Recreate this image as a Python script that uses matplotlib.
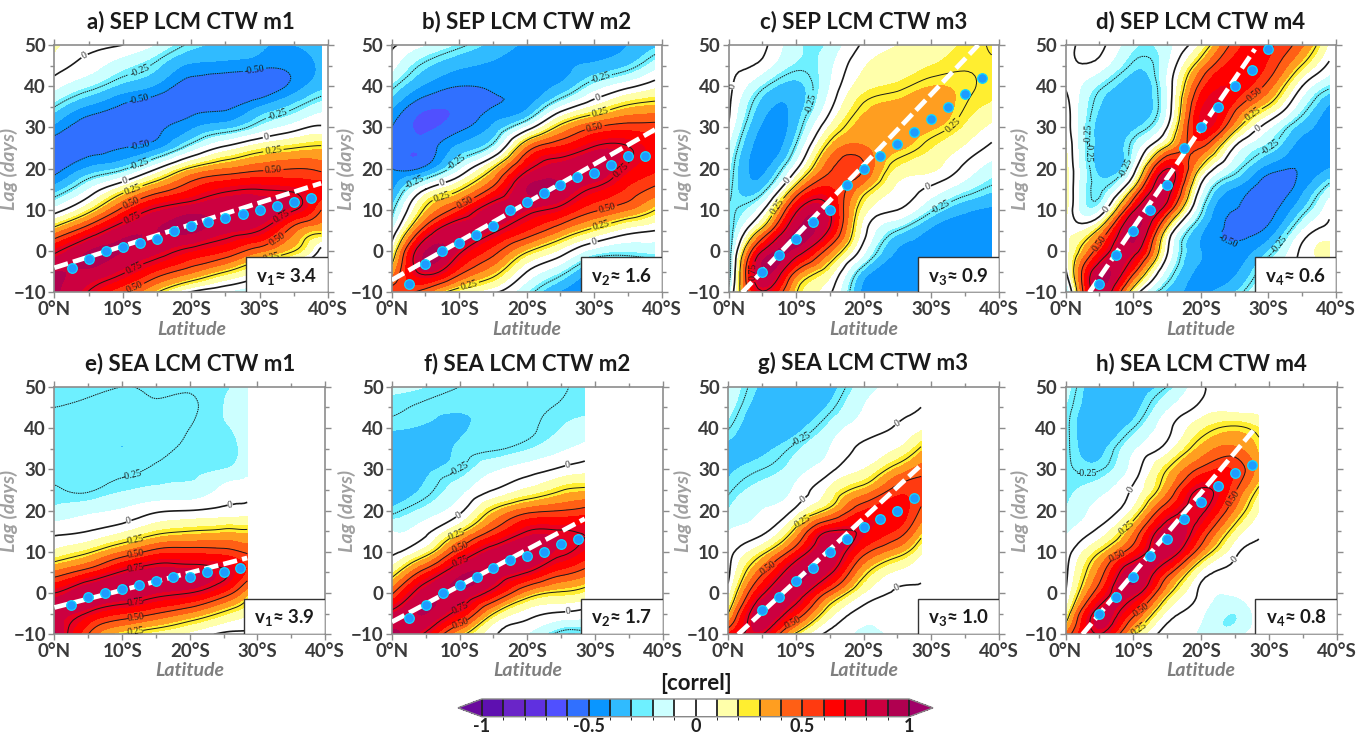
import matplotlib
matplotlib.use('Agg')
import matplotlib.pyplot as plt
import matplotlib.tri as mtri
from matplotlib.colors import ListedColormap, BoundaryNorm
from matplotlib.patches import Rectangle
from matplotlib.ticker import MultipleLocator
import numpy as np

plt.rcParams['font.family'] = ['Lato', 'DejaVu Sans']
plt.rcParams['mathtext.fontset'] = 'custom'
plt.rcParams['mathtext.bf'] = 'Lato:bold'
plt.rcParams['mathtext.rm'] = 'Lato:bold'

lag = [-10, -5, 0, 5, 10, 15, 20, 25, 30, 35, 40, 45, 50]
lat_top = [0, 5, 10, 15, 20, 25, 30, 35, 39]
lat_bot = [0, 5, 10, 15, 20, 25, 28.5]

# one list per latitude, values going up the lag axis
a_corr = [
    [.92, .90, .72, .33, -.06, -.35, -.55, -.58, -.43, -.25, -.07, .05, .12],
    [.74, .88, .90, .62, .20, -.10, -.38, -.55, -.56, -.42, -.20, -.05, .03],
    [.50, .77, .90, .85, .55, .17, -.27, -.50, -.56, -.52, -.33, -.17, 0],
    [.25, .58, .82, .90, .78, .42, 0, -.42, -.52, -.56, -.42, -.28, -.12],
    [-.02, .42, .70, .92, .86, .60, .28, -.17, -.42, -.55, -.55, -.42, -.27],
    [-.12, .25, .60, .82, .87, .72, .40, .04, -.33, -.52, -.58, -.44, -.33],
    [-.20, .08, .42, .75, .84, .75, .47, .18, -.18, -.40, -.58, -.47, -.38],
    [-.22, -.10, .25, .43, .76, .72, .50, .25, -.05, -.27, -.46, -.46, -.40],
    [-.25, -.13, -.05, .30, .50, .65, .47, .28, .02, -.15, -.33, -.38, -.38],
]
b_corr = [
    [.58, .33, .10, -.12, -.29, -.43, -.50, -.52, -.50, -.38, -.22, -.06, .02],
    [.42, .80, .90, .60, .28, 0, -.46, -.57, -.62, -.58, -.42, -.28, -.10],
    [.15, .55, .78, .88, .58, .23, -.13, -.37, -.53, -.58, -.50, -.38, -.22],
    [.02, .32, .55, .78, .85, .55, .25, -.18, -.38, -.50, -.48, -.42, -.33],
    [-.20, 0, .27, .60, .80, .90, .72, .42, -.08, -.42, -.44, -.44, -.42],
    [-.42, -.20, .07, .40, .70, .88, .85, .63, .30, -.10, -.38, -.42, -.45],
    [-.48, -.42, -.15, .20, .52, .73, .88, .77, .50, .12, -.17, -.38, -.44],
    [-.48, -.42, -.20, .05, .40, .58, .72, .76, .56, .28, -.03, -.30, -.40],
    [-.45, -.42, -.18, 0, .25, .47, .62, .65, .55, .32, .07, -.15, -.32],
]
c_corr = [
    [-.20, -.35, -.35, -.33, -.27, -.22, -.18, -.12, -.02, .02, .03, .02, 0],
    [.73, .92, .76, .32, -.02, -.30, -.43, -.46, -.42, -.35, -.22, -.04, .03],
    [.26, .48, .85, .90, .72, .35, -.02, -.22, -.32, -.36, -.33, -.22, -.18],
    [.02, .15, .42, .72, .75, .62, .48, .32, .12, -.03, -.10, -.13, -.18],
    [-.44, -.33, -.07, .05, .15, .32, .50, .42, .34, .27, .16, .09, .02],
    [-.45, -.45, -.41, -.25, 0, .08, .18, .32, .38, .34, .22, .15, .10],
    [-.45, -.45, -.45, -.42, -.22, -.03, .12, .20, .32, .38, .30, .20, .15],
    [-.45, -.45, -.45, -.45, -.38, -.18, -.03, .08, .18, .25, .27, .24, .21],
    [-.45, -.45, -.45, -.45, -.42, -.28, -.15, -.03, .07, .18, .22, .24, .26],
]
d_corr = [
    [-.30, -.02, .05, .10, .14, .16, .15, .12, .07, .05, -.01, -.03, -.05],
    [.87, .88, .60, .30, -.12, -.27, -.33, -.34, -.34, -.30, -.22, -.05, .03],
    [.13, .55, .82, .92, .72, .28, -.08, -.20, -.32, -.36, -.36, -.27, -.18],
    [-.33, -.15, .02, .18, .62, .82, .75, .30, 0, -.10, -.10, -.12, -.14],
    [-.42, -.43, -.40, -.38, -.22, -.05, .22, .50, .70, .68, .55, .35, .12],
    [-.30, -.42, -.47, -.52, -.50, -.42, -.20, -.02, .32, .55, .68, .65, .55],
    [-.05, -.15, -.30, -.47, -.53, -.56, -.45, -.25, -.08, .22, .45, .58, .62],
    [.03, .02, .03, -.10, -.30, -.43, -.49, -.46, -.35, -.18, 0, .24, .42],
    [.02, .05, .13, .04, -.03, -.18, -.40, -.45, -.46, -.42, -.22, -.03, .08],
]
e_corr = [
    [.92, .85, .75, .42, .12, -.03, -.18, -.24, -.27, -.28, -.27, -.25, -.21],
    [.50, .73, .88, .58, .23, 0, -.13, -.26, -.28, -.29, -.29, -.27, -.22],
    [.25, .60, .88, .77, .40, .08, -.09, -.21, -.27, -.30, -.29, -.28, -.25],
    [.15, .50, .80, .84, .55, .20, -.02, -.18, -.24, -.27, -.28, -.26, -.24],
    [.07, .38, .75, .83, .57, .25, 0, -.17, -.22, -.24, -.25, -.26, -.24],
    [-.02, .22, .58, .77, .55, .28, .03, -.07, -.20, -.23, -.21, -.20, -.21],
    [-.02, .12, .33, .58, .48, .27, .05, -.05, -.13, -.17, -.17, -.18, -.17],
]
f_corr = [
    [.92, .80, .48, .18, -.03, -.10, -.28, -.35, -.36, -.37, -.29, -.23, -.18],
    [.72, .90, .85, .58, .17, -.03, -.17, -.28, -.32, -.35, -.31, -.27, -.20],
    [.30, .68, .88, .87, .58, .22, -.03, -.14, -.25, -.29, -.31, -.29, -.25],
    [.02, .25, .68, .87, .83, .53, .27, 0, -.12, -.26, -.28, -.29, -.28],
    [-.10, .05, .35, .75, .87, .75, .45, .12, -.05, -.21, -.26, -.27, -.28],
    [-.30, -.02, .23, .55, .78, .76, .50, .24, .02, -.12, -.20, -.24, -.26],
    [-.30, -.05, .18, .45, .68, .74, .54, .28, .06, -.07, -.16, -.22, -.23],
]
g_corr = [
    [.62, .25, .05, -.03, -.05, -.10, -.20, -.27, -.32, -.33, -.24, -.15, -.10],
    [.76, .88, .72, .47, .20, -.03, -.10, -.16, -.25, -.33, -.38, -.36, -.32],
    [.22, .62, .85, .87, .60, .30, .03, -.08, -.15, -.22, -.34, -.38, -.38],
    [-.03, .15, .45, .78, .87, .75, .30, .12, -.03, -.10, -.17, -.28, -.35],
    [-.12, -.05, .10, .30, .55, .72, .60, .32, .10, .02, -.05, -.10, -.15],
    [-.08, -.03, -.01, .08, .33, .58, .66, .55, .32, .10, .01, -.03, -.08],
    [-.05, -.03, -.01, .02, .12, .32, .48, .54, .45, .27, .08, 0, -.03],
]
h_corr = [
    [.42, .12, 0, -.03, -.06, -.12, -.20, -.22, -.22, -.22, -.22, -.20, -.15],
    [.75, .82, .60, .43, .24, .03, -.07, -.14, -.26, -.33, -.38, -.38, -.37],
    [.25, .55, .82, .88, .60, .38, .13, .02, -.06, -.12, -.25, -.34, -.37],
    [-.05, .07, .30, .57, .85, .85, .62, .37, .25, .05, -.03, -.12, -.25],
    [-.12, -.08, -.03, .08, .40, .63, .78, .77, .53, .33, .18, .03, -.02],
    [-.15, -.20, -.08, -.02, .03, .18, .38, .52, .58, .42, .27, .05, .03],
    [-.03, -.03, -.03, -.03, -.02, .02, .10, .22, .34, .28, .20, .05, .03],
]

a_dot_lat = [2.5, 5, 7.5, 10, 12.5, 15, 17.5, 20, 22.5, 25, 27.5, 30, 32.5, 35, 37.5]
a_dot_lag = [-4, -2, 0, 1, 2, 3, 5, 6, 7, 8, 9, 10, 11, 12, 13]
b_dot_lag = [-8, -3, 0, 2, 4, 6, 10, 12, 14, 16, 18, 19, 21, 23, 23]
c_dot_lat = [5, 7.5, 10, 12.5, 15, 17.5, 20, 22.5, 25, 27.5, 30, 32.5, 35, 37.5]
c_dot_lag = [-5, -1, 3, 7, 10, 16, 20, 23, 26, 29, 32, 35, 38, 42]
d_dot_lat = [5, 7.5, 10, 12.5, 15, 17.5, 20, 22.5, 25, 27.5, 30]
d_dot_lag = [-8, -1, 5, 10, 16, 25, 30, 35, 40, 44, 49]
e_dot_lat = [2.5, 5, 7.5, 10, 12.5, 15, 17.5, 20, 22.5, 25, 27.5]
e_dot_lag = [-3, -1, 0, 1, 2, 3, 4, 4, 5, 5, 6]
f_dot_lag = [-6, -3, 0, 2, 4, 6, 8, 9, 10, 12, 13]
g_dot_lat = [5, 7.5, 10, 12.5, 15, 17.5, 20, 22.5, 25, 27.5]
g_dot_lag = [-4, -1, 3, 6, 10, 13, 16, 18, 20, 23]
h_dot_lag = [-5, -1, 4, 9, 13, 18, 22, 26, 29, 31]

# fitted speed lines, (lat start, lat end) and (lag start, lag end)
a_fit = ([0, 39], [-4, 16.5])
b_fit = ([0, 39], [-7, 29.5])
c_fit = ([2, 37], [-10, 50])
d_fit = ([3.5, 28], [-10, 49])
e_fit = ([0, 28.5], [-3.5, 8.5])
f_fit = ([0, 28.5], [-7, 18])
g_fit = ([1.5, 28.5], [-10, 31])
h_fit = ([2.5, 28], [-10, 40])

titles = ['a) SEP LCM CTW m1', 'b) SEP LCM CTW m2', 'c) SEP LCM CTW m3', 'd) SEP LCM CTW m4',
          'e) SEA LCM CTW m1', 'f) SEA LCM CTW m2', 'g) SEA LCM CTW m3', 'h) SEA LCM CTW m4']
speeds = ['1', '2', '3', '4', '1', '2', '3', '4']
speed_vals = ['3.4', '1.6', '0.9', '0.6', '3.9', '1.7', '1.0', '0.8']

band_colors = ['#5E10B0', '#6A25C8', '#6030E0', '#5050FF', '#3070FF', '#0A96FF', '#30BBFF', '#6EF0FF',
               '#CCFFFF', '#FFFFFF', '#FFFFFF', '#FFFFAA', '#FFEE30', '#FF9E20', '#FF5F15', '#FF3A10',
               '#FF0000', '#E80020', '#CC0040', '#B00050']
levels = np.arange(-10, 11) / 10
line_levels = [-.5, -.25, 0, .25, .5, .75]
line_fmt = {-.5: '-0.50', -.25: '-0.25', 0: '0', .25: '0.25', .5: '0.50', .75: '0.75'}

cmap = ListedColormap(band_colors)
cmap.set_under('#6A0A9E')
cmap.set_over('#A00068')
norm = BoundaryNorm(levels, cmap.N)

# contour label spots (lat, lag)
a_spots = [(4.5, 47), (12.3, 44.4), (12.3, 37.5), (12.3, 27.8), (29.5, 41), (12.3, 21.8), (32.5, 33.5),
           (10.3, 17.3), (31, 27.6), (11.5, 14.9), (32, 24.5), (31.5, -.5), (11.5, 10.8), (32, 20),
           (32, 4.4), (11.5, -7.7), (11.5, 7.2), (11.5, -3.7), (33, 9)]
b_spots = [(7.5, 16.5), (30.5, 37.5), (30, 2), (7.5, 13), (31, 33), (31, 6.5), (9, 22.5), (31, 41.5),
           (11, 11.5), (30, 30.5), (32, 10), (11.5, -8.5), (3, 18), (34, 19.5)]
c_spots = [(1, 40), (8.5, 17.5), (29.5, 15.5), (7, 11), (33, 31), (13, 35.5), (31.5, 10.5), (3.5, -5)]
d_spots = [(2.2, 24), (6.2, 10), (28.5, 29.5), (4, 28.5), (8, 21), (30, 26), (31, 2.5), (5, 2), (28, 32.5),
           (28, 38), (24, 3)]
e_spots = [(11, 17.3), (26, 21), (12, 13), (12, -9), (12, 9.5), (12, -5.7), (12, 5.7), (12, -2), (11.5, 28)]
f_spots = [(9.7, 19.3), (26, -4.5), (26, 30.5), (9.5, 14.5), (10, 11.5), (10, -6.5), (10, 8), (10, -3.5), (10, 30)]
g_spots = [(11, 23), (25, 41), (25, .8), (11, 17.5), (6, 6), (9.5, -7), (11, 37)]
h_spots = [(9.6, 25), (25, 8), (9, 16), (7.5, 10), (11, -3.5), (25, 22.5), (3, 25), (11, -9)]

W, H = 1363, 733
# axes frames in pixels: left, right, top, bottom
frames = [(54.5, 328, 45, 292.5), (391.7, 661.7, 45, 292.5), (728.7, 998.5, 45, 292.5), (1065.7, 1336, 45, 292.5),
          (54.5, 325, 386.7, 634.3), (392, 662.6, 386.7, 634.3), (728, 999, 386.7, 634.3), (1065.5, 1336.8, 386.7, 634.3)]
fields = [a_corr, b_corr, c_corr, d_corr, e_corr, f_corr, g_corr, h_corr]
dots = [(a_dot_lat, a_dot_lag), (a_dot_lat, b_dot_lag), (c_dot_lat, c_dot_lag), (d_dot_lat, d_dot_lag),
        (e_dot_lat, e_dot_lag), (e_dot_lat, f_dot_lag), (g_dot_lat, g_dot_lag), (g_dot_lat, h_dot_lag)]
fits = [a_fit, b_fit, c_fit, d_fit, e_fit, f_fit, g_fit, h_fit]
spots = [a_spots, b_spots, c_spots, d_spots, e_spots, f_spots, g_spots, h_spots]

GREY = '#8c8c8c'
fig = plt.figure(figsize=(W / 100, H / 100), dpi=100)


def draw_panel(i):
    left, right, top, bottom = frames[i]
    ax = fig.add_axes([left / W, 1 - bottom / H, (right - left) / W, (bottom - top) / H])
    lats = lat_top if i < 4 else lat_bot
    xx, yy = np.meshgrid(lats, lag, indexing='ij')
    zz = np.array(fields[i])
    grid = mtri.Triangulation(xx.ravel(), yy.ravel())
    fine, fine_z = mtri.UniformTriRefiner(grid).refine_field(zz.ravel(), subdiv=3)
    ax.tricontourf(fine, fine_z, levels=levels, cmap=cmap, norm=norm, extend='both')
    lines = ax.tricontour(fine, fine_z, levels=line_levels, colors='#1a1a1a',
                          linewidths=[.7, .7, 1.2, .7, .7, .7],
                          linestyles=[(0, (1.5, .8)), (0, (1.5, .8)), '-', '-', '-', '-'])
    labels = ax.clabel(lines, fmt=line_fmt, fontsize=7, inline=True, inline_spacing=1, manual=spots[i])
    for lab in labels:
        lab.set_family('Liberation Serif')

    ax.plot(fits[i][0], fits[i][1], color='white', lw=3.4, ls=(0, (3.0, 1.1)), zorder=5)
    ax.scatter(dots[i][0], dots[i][1], s=48, facecolor='#1E9BFF', edgecolor='#10D8FF', linewidth=.9, zorder=6)

    ax.set_xlim(0, 40)
    ax.set_ylim(-10, 50)
    ax.xaxis.set_minor_locator(MultipleLocator(5))
    ax.yaxis.set_major_locator(MultipleLocator(10))
    ax.yaxis.set_minor_locator(MultipleLocator(5))
    ax.set_xticks([0, 10, 20, 30, 40])
    ax.set_xticklabels(['0°N', '10°S', '20°S', '30°S', '40°S'])
    ax.tick_params(which='both', top=True, right=True, direction='out', color=GREY, width=1)
    ax.tick_params(which='major', length=4, labelsize=13.5, labelcolor='#3a3a3a', pad=2)
    ax.tick_params(which='minor', length=3)
    for lab in ax.get_xticklabels() + ax.get_yticklabels():
        lab.set_fontweight('bold')
    for sp in ax.spines.values():
        sp.set_color(GREY)
        sp.set_linewidth(1.2)
    ax.set_xlabel('Latitude', fontsize=14, fontweight='bold', style='italic', color='#7f7f7f', labelpad=2)
    ax.set_ylabel('Lag (days)', fontsize=14, fontweight='bold', style='italic', color='#a0a0a0')
    ax.yaxis.set_label_coords(-36.5 / (right - left), .5)
    ax.set_title(titles[i], fontsize=16, fontweight='bold', color='#1a1a1a', pad=12)

    ax.add_patch(Rectangle((.7, 0), .3, .143, transform=ax.transAxes, facecolor='white',
                           edgecolor='#333333', lw=1, zorder=7))
    ax.text(.85, .066, r'$\mathbf{v_%s}$≈ %s' % (speeds[i], speed_vals[i]), transform=ax.transAxes,
            ha='center', va='center', fontsize=13.5, fontweight='bold', color='#1a1a1a', zorder=8)
    return ax


for i in range(8):
    draw_panel(i)

cax = fig.add_axes([458 / W, 1 - 716.7 / H, 475 / W, 17.7 / H])
mappable = plt.cm.ScalarMappable(norm=norm, cmap=cmap)
cb = fig.colorbar(mappable, cax=cax, orientation='horizontal', extend='both', extendfrac=.056,
                  drawedges=True, ticks=[-1, -.5, 0, .5, 1], spacing='proportional')
cb.ax.set_xticklabels(['-1', '-0.5', '0', '0.5', '1'])
cb.ax.tick_params(length=0, labelsize=13, pad=1, labelcolor='#222222')
for lab in cb.ax.get_xticklabels():
    lab.set_fontweight('bold')
cb.dividers.set_color('#222222')
cb.dividers.set_linewidth(1.3)
cb.outline.set_edgecolor('#888888')
cb.outline.set_linewidth(1)
fig.text(695.5 / W, 1 - 683 / H, '[correl]', ha='center', va='center', fontsize=16, fontweight='bold', color='#1a1a1a')

fig.savefig('out.png', dpi=100)
